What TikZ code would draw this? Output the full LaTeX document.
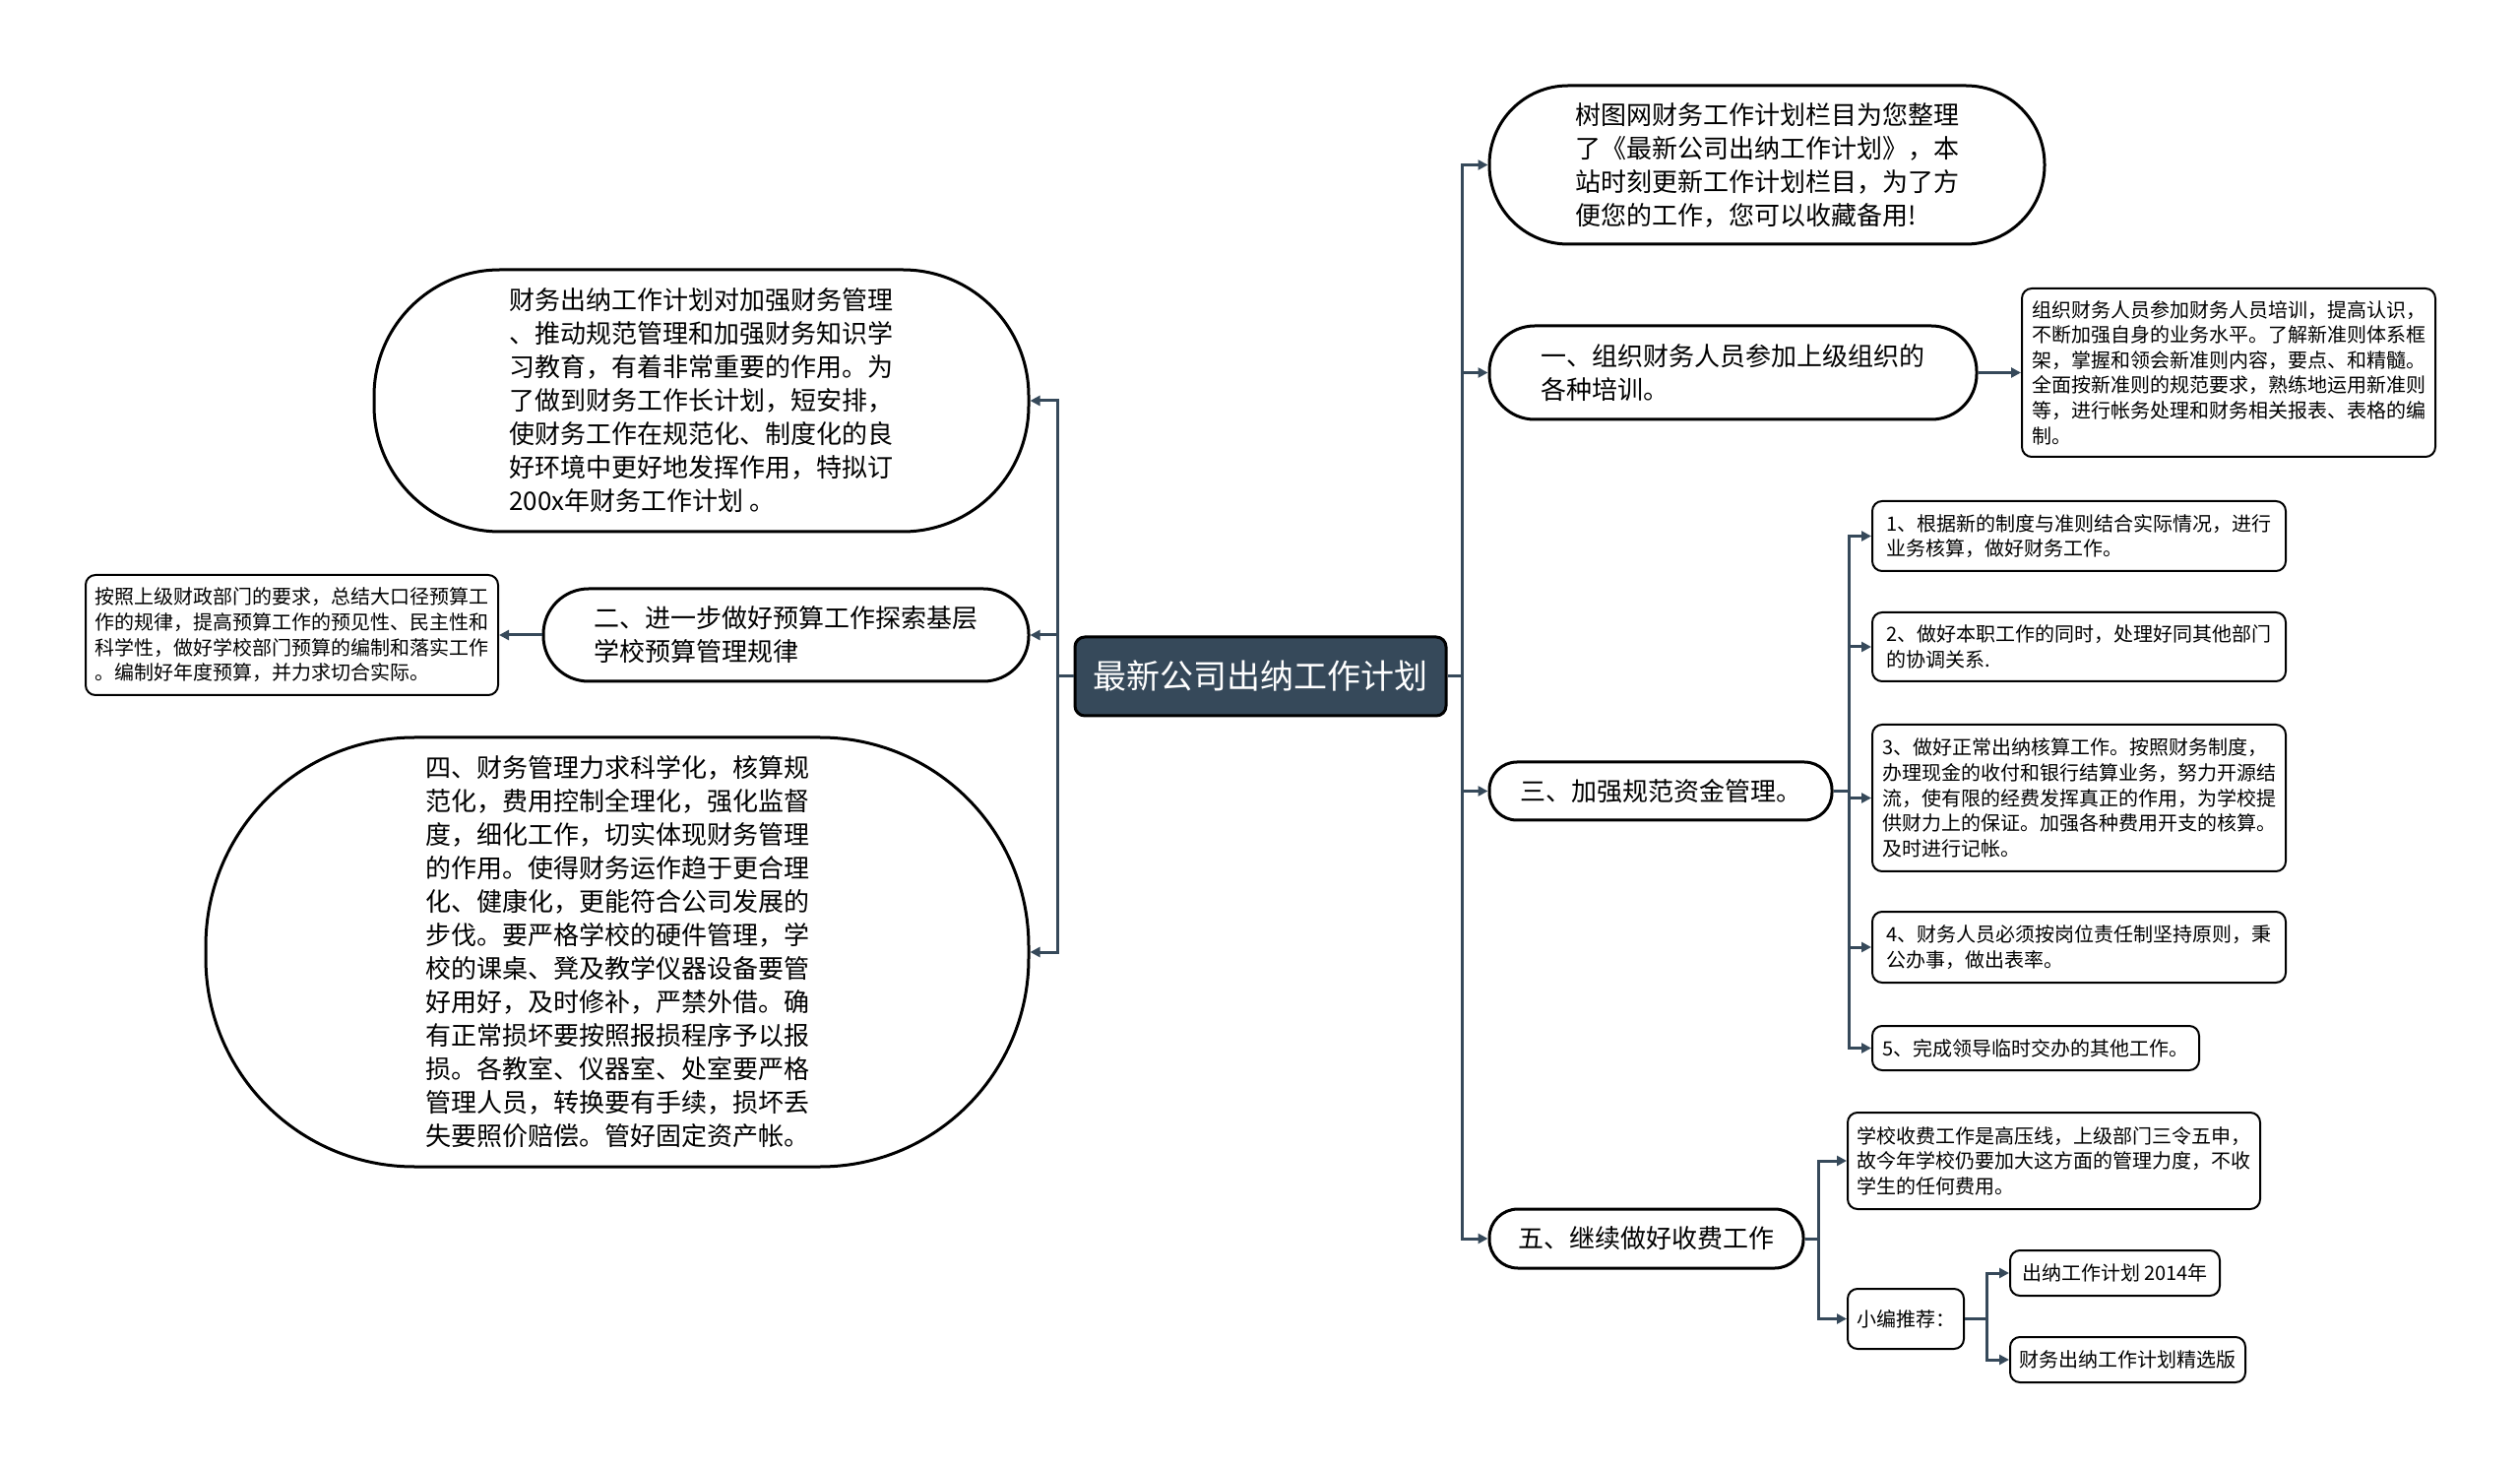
\documentclass[tikz,border=0pt]{standalone}
\usepackage{fontspec}
\setmainfont{Noto Sans CJK SC}
\usetikzlibrary{arrows.meta}
\definecolor{slate}{RGB}{54,73,90}
\begin{document}
\begin{tikzpicture}[x=0.5pt,y=-0.5pt,
  base/.style={draw=black,inner sep=0pt,align=left,anchor=center,text=black},
  stadium/.style={base,line width=1.5pt,font=\fontsize{13pt}{17pt}\selectfont},
  smallbox/.style={base,line width=1pt,rounded corners=5pt,font=\fontsize{10pt}{12.8pt}\selectfont},
  rootbox/.style={draw=black,line width=1.5pt,fill=slate,rounded corners=5pt,text=white,inner sep=0pt,
     font=\fontsize{17pt}{20pt}\selectfont,minimum width=188.5pt,minimum height=40pt},
  conn/.style={draw=slate,line width=1.5pt,-{Triangle[length=5pt,width=5pt]}},
  wire/.style={draw=slate,line width=1.5pt},
]
\useasboundingbox (0,0) rectangle (2560,1491);
\fill[white] (0,0) rectangle (2560,1491);

% root
\node[rootbox] (root) at (1280.5,687) {最新公司出纳工作计划};

% right side
\node[stadium,rounded corners=40pt,minimum width=282pt,minimum height=80.5pt] (r0) at (1795,167.5)
 {树图网财务工作计划栏目为您整理\\了《最新公司出纳工作计划》，本\\站时刻更新工作计划栏目，为了方\\便您的工作，您可以收藏备用!};
\node[stadium,rounded corners=23pt,minimum width=247.5pt,minimum height=47.5pt] (r1) at (1760.5,378.5)
 {一、组织财务人员参加上级组织的\\各种培训。};
\node[smallbox,minimum width=210pt,minimum height=85.5pt] (r1b) at (2264,378.5)
 {组织财务人员参加财务人员培训，提高认识，\\不断加强自身的业务水平。了解新准则体系框\\架，掌握和领会新准则内容，要点、和精髓。\\全面按新准则的规范要求，熟练地运用新准则\\等，进行帐务处理和财务相关报表、表格的编\\制。};
\node[stadium,rounded corners=14pt,minimum width=174pt,minimum height=29.5pt] (r3) at (1687,803.5)
 {三、加强规范资金管理。};
\node[smallbox,minimum width=210pt,minimum height=35.5pt] (r3a) at (2112,544.5)
 {1、根据新的制度与准则结合实际情况，进行\\业务核算，做好财务工作。};
\node[smallbox,minimum width=210pt,minimum height=35pt] (r3b) at (2112,657)
 {2、做好本职工作的同时，处理好同其他部门\\的协调关系.};
\node[smallbox,minimum width=210pt,minimum height=74.5pt] (r3c) at (2112,810.5)
 {3、做好正常出纳核算工作。按照财务制度，\\办理现金的收付和银行结算业务，努力开源结\\流，使有限的经费发挥真正的作用，为学校提\\供财力上的保证。加强各种费用开支的核算。\\及时进行记帐。};
\node[smallbox,minimum width=210pt,minimum height=36pt] (r3d) at (2112,962)
 {4、财务人员必须按岗位责任制坚持原则，秉\\公办事，做出表率。};
\node[smallbox,minimum width=166pt,minimum height=22.5pt] (r3e) at (2068,1064.5)
 {5、完成领导临时交办的其他工作。};
\node[stadium,rounded corners=14.5pt,minimum width=159.5pt,minimum height=30pt] (r5) at (1672.5,1258)
 {五、继续做好收费工作};
\node[smallbox,minimum width=209.5pt,minimum height=49pt] (r5a) at (2086.5,1179)
 {学校收费工作是高压线，上级部门三令五申，\\故今年学校仍要加大这方面的管理力度，不收\\学生的任何费用。};
\node[smallbox,minimum width=59pt,minimum height=30.5pt] (r5b) at (1936,1339.5)
 {小编推荐：};
\node[smallbox,minimum width=106.5pt,minimum height=23pt] (r5b1) at (2148.5,1293)
 {出纳工作计划 2014年};
\node[smallbox,minimum width=119.5pt,minimum height=23pt] (r5b2) at (2161.5,1381)
 {财务出纳工作计划精选版};

% left side
\node[stadium,rounded corners=64pt,minimum width=332.5pt,minimum height=133pt] (l0) at (712.5,407)
 {财务出纳工作计划对加强财务管理\\、推动规范管理和加强财务知识学\\习教育，有着非常重要的作用。为\\了做到财务工作长计划，短安排，\\使财务工作在规范化、制度化的良\\好环境中更好地发挥作用，特拟订\\200x年财务工作计划 。};
\node[stadium,rounded corners=23pt,minimum width=246.5pt,minimum height=47pt] (l1) at (798.5,645)
 {二、进一步做好预算工作探索基层\\学校预算管理规律};
\node[smallbox,minimum width=209.5pt,minimum height=61pt] (l1b) at (296.5,645)
 {按照上级财政部门的要求，总结大口径预算工\\作的规律，提高预算工作的预见性、民主性和\\科学性，做好学校部门预算的编制和落实工作\\。编制好年度预算，并力求切合实际。};
\node[stadium,rounded corners=106pt,minimum width=418pt,minimum height=218pt] (l2) at (627,967)
 {四、财务管理力求科学化，核算规\\范化，费用控制全理化，强化监督\\度，细化工作，切实体现财务管理\\的作用。使得财务运作趋于更合理\\化、健康化，更能符合公司发展的\\步伐。要严格学校的硬件管理，学\\校的课桌、凳及教学仪器设备要管\\好用好，及时修补，严禁外借。确\\有正常损坏要按照报损程序予以报\\损。各教室、仪器室、处室要严格\\管理人员，转换要有手续，损坏丢\\失要照价赔偿。管好固定资产帐。};

% bus coordinates
\coordinate (tR) at (1485,687);
\coordinate (tL) at (1074,687);
\coordinate (b3) at (1878,803.5);
\coordinate (b5) at (1847,1258);
\coordinate (b5b) at (2018,1339.5);

% connectors
\draw[wire] (root.east) -- (tR);
\foreach \c in {r0,r1,r3,r5} \draw[conn] (tR) |- (\c.west);
\draw[wire] (root.west) -- (tL);
\foreach \c in {l0,l1,l2} \draw[conn] (tL) |- (\c.east);
\draw[conn] (r1.east) -- (r1b.west);
\draw[conn] (l1.west) -- (l1b.east);
\draw[wire] (r3.east) -- (b3);
\foreach \c in {r3a,r3b,r3c,r3d,r3e} \draw[conn] (b3) |- (\c.west);
\draw[wire] (r5.east) -- (b5);
\foreach \c in {r5a,r5b} \draw[conn] (b5) |- (\c.west);
\draw[wire] (r5b.east) -- (b5b);
\foreach \c in {r5b1,r5b2} \draw[conn] (b5b) |- (\c.west);
\end{tikzpicture}
\end{document}
